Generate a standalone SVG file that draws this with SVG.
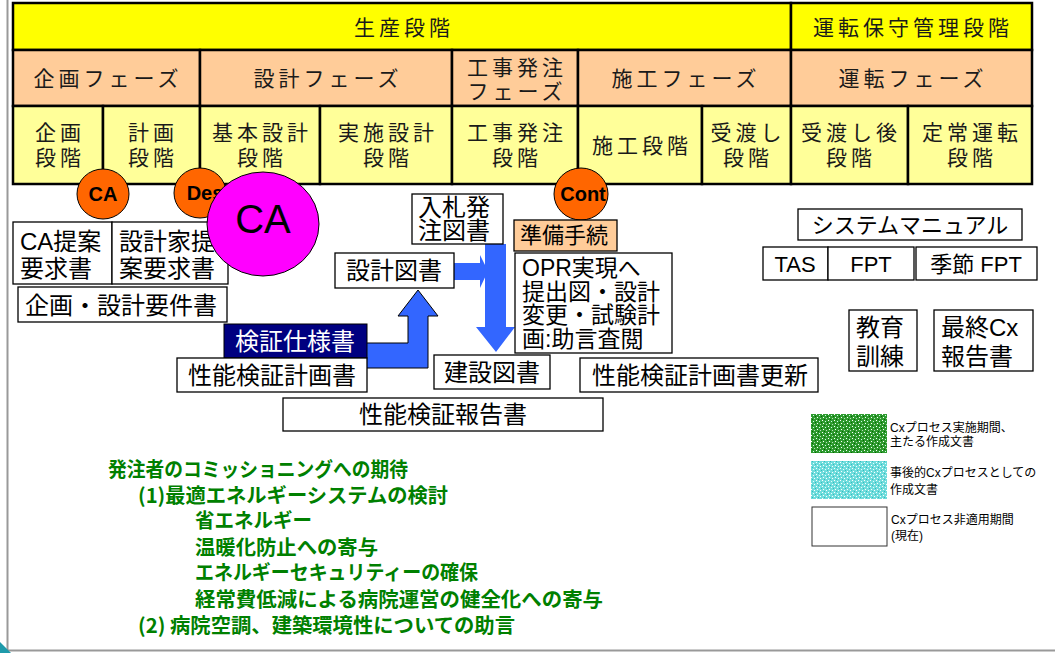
<svg xmlns="http://www.w3.org/2000/svg" width="1055" height="653" viewBox="0 0 1055 653">
<defs>
<style>
.cell{stroke:#000;stroke-width:2.5}
.y1{fill:#FFFF00}.pe{fill:#FFCC99}.y3{fill:#FFFF99}
.tt{font-family:"Noto Sans CJK JP","Noto Sans",sans-serif;font-size:21px;letter-spacing:4px;fill:#1a1a1a;text-anchor:middle}
.box{fill:#fff;stroke:#000;stroke-width:1.3}
.bt{font-family:"Liberation Sans","Noto Sans CJK JP",sans-serif;font-size:24px;fill:#000}
.mid{text-anchor:middle}
.circ{fill:#FF6600;stroke:#000;stroke-width:1}
.ct{font-family:"Liberation Sans",Arial,sans-serif;font-size:20px;font-weight:bold;fill:#000;text-anchor:middle}
.arrow{fill:#3366FF}
.lg{font-family:"Liberation Sans","Noto Sans CJK JP",sans-serif;font-size:12px;fill:#000}
.gt{font-family:"Noto Sans CJK JP",sans-serif;font-size:20px;font-weight:bold;fill:#008000}
</style>
<pattern id="pg" width="6" height="6" patternUnits="userSpaceOnUse">
<rect width="6" height="6" fill="#2E9A2E"/>
<rect x="0" y="0" width="1" height="1" fill="#fff"/>
<rect x="3" y="1" width="1" height="1" fill="#cfe"/>
<rect x="1" y="3" width="1" height="1" fill="#fff"/>
<rect x="4" y="4" width="1" height="1" fill="#bdb"/>
<rect x="2" y="5" width="1" height="1" fill="#006600"/>
<rect x="5" y="2" width="1" height="1" fill="#006600"/>
</pattern>
<pattern id="pc" width="6" height="6" patternUnits="userSpaceOnUse">
<rect width="6" height="6" fill="#6FDCDC"/>
<rect x="0" y="0" width="1" height="1" fill="#fff"/>
<rect x="3" y="1" width="1" height="1" fill="#e8ffff"/>
<rect x="1" y="3" width="1" height="1" fill="#fff"/>
<rect x="4" y="4" width="1" height="1" fill="#fff"/>
<rect x="2" y="5" width="1" height="1" fill="#33BBBB"/>
<rect x="5" y="2" width="1" height="1" fill="#33BBBB"/>
</pattern>
</defs>
<rect width="1055" height="653" fill="#fff"/>
<g id="frame">
<line x1="7.5" y1="0" x2="7.5" y2="650" stroke="#999" stroke-width="2"/>
<line x1="7" y1="650.5" x2="1055" y2="650.5" stroke="#999" stroke-width="2"/>
<polygon points="0,642 11,653 0,653" fill="#1E9AAA"/>
</g>
<g id="table">
<rect class="cell y1" x="13" y="3" width="778" height="47"/>
<rect class="cell y1" x="791" y="3" width="241" height="47"/>
<rect class="cell pe" x="13" y="50" width="187" height="56"/>
<rect class="cell pe" x="200" y="50" width="252" height="56"/>
<rect class="cell pe" x="452" y="50" width="126" height="56"/>
<rect class="cell pe" x="578" y="50" width="213" height="56"/>
<rect class="cell pe" x="791" y="50" width="241" height="56"/>
<rect class="cell y3" x="13" y="106" width="90" height="78"/>
<rect class="cell y3" x="103" y="106" width="97" height="78"/>
<rect class="cell y3" x="200" y="106" width="120" height="78"/>
<rect class="cell y3" x="320" y="106" width="132" height="78"/>
<rect class="cell y3" x="452" y="106" width="126" height="78"/>
<rect class="cell y3" x="578" y="106" width="124" height="78"/>
<rect class="cell y3" x="702" y="106" width="89" height="78"/>
<rect class="cell y3" x="791" y="106" width="117" height="78"/>
<rect class="cell y3" x="908" y="106" width="124" height="78"/>
<text class="tt" x="404" y="35">生産段階</text>
<text class="tt" x="913" y="35">運転保守管理段階</text>
<text class="tt" x="108" y="86">企画フェーズ</text>
<text class="tt" x="328" y="86">設計フェーズ</text>
<text class="tt" x="517" y="75">工事発注</text>
<text class="tt" x="517" y="99">フェーズ</text>
<text class="tt" x="686" y="86">施工フェーズ</text>
<text class="tt" x="913" y="86">運転フェーズ</text>
<text class="tt" x="60" y="140">企画</text><text class="tt" x="60" y="165">段階</text>
<text class="tt" x="153" y="140">計画</text><text class="tt" x="153" y="165">段階</text>
<text class="tt" x="262" y="140">基本設計</text><text class="tt" x="262" y="165">段階</text>
<text class="tt" x="388" y="140">実施設計</text><text class="tt" x="388" y="165">段階</text>
<text class="tt" x="517" y="140">工事発注</text><text class="tt" x="517" y="165">段階</text>
<text class="tt" x="642" y="153">施工段階</text>
<text class="tt" x="748" y="140">受渡し</text><text class="tt" x="748" y="165">段階</text>
<text class="tt" x="851" y="140">受渡し後</text><text class="tt" x="851" y="165">段階</text>
<text class="tt" x="972" y="140">定常運転</text><text class="tt" x="972" y="165">段階</text>
</g>
<g id="circle-ca"><ellipse class="circ" cx="103" cy="194" rx="26" ry="25"/><text class="ct" x="103" y="201">CA</text></g>
<g id="circle-des"><ellipse class="circ" cx="200" cy="193" rx="26" ry="25"/><text class="ct" x="205" y="200">Des</text></g>
<g id="circle-cont"><ellipse class="circ" cx="581" cy="194" rx="27" ry="26"/><text class="ct" x="583" y="201">Cont</text></g>
<g id="connectors">
<polygon class="arrow" points="454,263 480,263 480,255 488,271 480,288 480,280 454,280"/>
<polygon class="arrow" points="485,244 506,244 506,327 515,327 496,352 476,327 485,327"/>
<polygon class="arrow" stroke="#000" stroke-width="1" points="360,343 408,343 408,316 398,316 418,290 438,316 428,316 428,368 360,368"/>
</g>
<g id="ca-req"><rect class="box" x="13" y="222" width="99" height="62"/><text class="bt" x="20" y="250">CA提案</text><text class="bt" x="20" y="277">要求書</text></g>
<g id="designer-req"><rect class="box" x="112" y="222" width="116" height="62"/><text class="bt" x="119" y="250">設計家提</text><text class="bt" x="119" y="277">案要求書</text></g>
<g id="circle-ca-big"><ellipse cx="263" cy="224" rx="56" ry="52" fill="#FF00FF" stroke="#000" stroke-width="1"/><text x="263" y="233" font-family="Liberation Sans,Arial,sans-serif" font-size="40" text-anchor="middle" fill="#000">CA</text></g>
<g id="req-doc"><rect class="box" x="18" y="287" width="209" height="35"/><text class="bt mid" x="121" y="314">企画・設計要件書</text></g>
<g id="spec"><rect x="224" y="324" width="143" height="34" fill="#000080" stroke="#000" stroke-width="1"/><text class="bt mid" x="295" y="350" style="fill:#fff">検証仕様書</text></g>
<g id="plan"><rect class="box" x="177" y="358" width="190" height="34"/><text class="bt mid" x="272" y="384">性能検証計画書</text></g>
<g id="report"><rect class="box" x="283" y="398" width="320" height="33"/><text class="bt mid" x="443" y="423">性能検証報告書</text></g>
<g id="bid-doc"><rect class="box" x="412" y="194" width="91" height="50"/><text class="bt" x="418" y="216">入札発</text><text class="bt" x="418" y="239">注図書</text></g>
<g id="design-doc"><rect class="box" x="335" y="253" width="119" height="35"/><text class="bt mid" x="394" y="279">設計図書</text></g>
<g id="prep"><rect x="514" y="220" width="103" height="31" fill="#FFCC99" stroke="#000" stroke-width="1.3"/><text class="bt" x="520" y="243" style="font-size:22px">準備手続</text></g>
<g id="opr"><rect class="box" x="515" y="253" width="157" height="100"/><text class="bt" x="522" y="276" style="font-size:23px">OPR実現へ</text><text class="bt" x="522" y="300" style="font-size:23px">提出図・設計</text><text class="bt" x="522" y="323" style="font-size:23px">変更・試験計</text><text class="bt" x="522" y="347" style="font-size:23px">画:助言査閲</text></g>
<g id="const-doc"><rect class="box" x="434" y="355" width="116" height="34"/><text class="bt mid" x="492" y="381">建設図書</text></g>
<g id="plan-update"><rect class="box" x="580" y="358" width="238" height="34"/><text class="bt mid" x="700" y="384">性能検証計画書更新</text></g>
<g id="manual"><rect class="box" x="798" y="209" width="224" height="31"/><text class="bt mid" x="910" y="233" style="font-size:22px">システムマニュアル</text></g>
<g id="tas"><rect class="box" x="763" y="247" width="65" height="33"/><text class="bt mid" x="795" y="272" style="font-size:22px">TAS</text></g>
<g id="fpt"><rect class="box" x="828" y="247" width="86" height="33"/><text class="bt mid" x="871" y="272" style="font-size:22px">FPT</text></g>
<g id="season-fpt"><rect class="box" x="916" y="247" width="121" height="33"/><text class="bt mid" x="976" y="272" style="font-size:22px">季節 FPT</text></g>
<g id="training"><rect class="box" x="849" y="310" width="68" height="61"/><text class="bt" x="856" y="336">教育</text><text class="bt" x="856" y="365">訓練</text></g>
<g id="final-report"><rect class="box" x="934" y="310" width="99" height="61"/><text class="bt" x="941" y="336">最終Cx</text><text class="bt" x="941" y="365">報告書</text></g>
<g id="legend">
<rect x="811" y="414" width="76" height="39" fill="url(#pg)"/>
<text class="lg" x="890" y="432">Cxプロセス実施期間、</text>
<text class="lg" x="890" y="446">主たる作成文書</text>
<rect x="811" y="461" width="76" height="38" fill="url(#pc)"/>
<text class="lg" x="890" y="477">事後的Cxプロセスとしての</text>
<text class="lg" x="890" y="494">作成文書</text>
<rect x="812" y="507" width="75" height="39" fill="#fff" stroke="#333" stroke-width="1"/>
<text class="lg" x="891" y="524">Cxプロセス非適用期間</text>
<text class="lg" x="891" y="540">(現在)</text>
</g>
<g id="expectations">
<text class="gt" x="108" y="477" textLength="300" lengthAdjust="spacingAndGlyphs">発注者のコミッショニングへの期待</text>
<text class="gt" x="138" y="503" textLength="310" lengthAdjust="spacingAndGlyphs">(1)最適エネルギーシステムの検討</text>
<text class="gt" x="195" y="528" textLength="117" lengthAdjust="spacingAndGlyphs">省エネルギー</text>
<text class="gt" x="195" y="555" textLength="183" lengthAdjust="spacingAndGlyphs">温暖化防止への寄与</text>
<text class="gt" x="195" y="580" textLength="283" lengthAdjust="spacingAndGlyphs">エネルギーセキュリティーの確保</text>
<text class="gt" x="195" y="607" textLength="408" lengthAdjust="spacingAndGlyphs">経常費低減による病院運営の健全化への寄与</text>
<text class="gt" x="138" y="633" textLength="377" lengthAdjust="spacingAndGlyphs">(2) 病院空調、建築環境性についての助言</text>
</g>
</svg>
